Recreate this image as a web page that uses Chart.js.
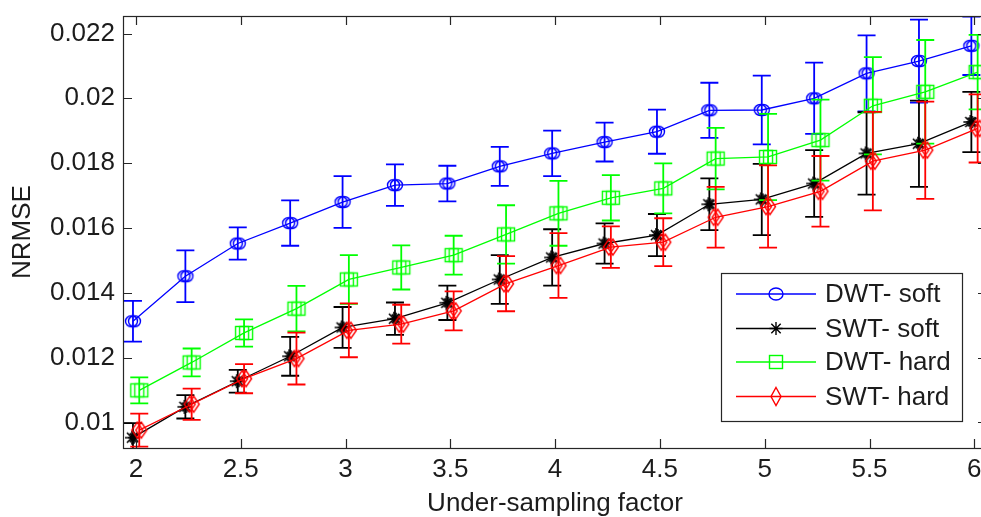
<!DOCTYPE html>
<html><head><meta charset="utf-8">
<script src="https://cdn.jsdelivr.net/npm/chart.js@4/dist/chart.umd.min.js"></script>
<style>
html,body{margin:0;padding:0;overflow:hidden;background:#fff;width:981px;height:517px}
#wrap{position:absolute;left:0;top:0;width:1000px;height:517px}
</style></head>
<body><div id="wrap"><canvas id="c" width="1000" height="517"></canvas></div>
<script>
// ---- data ----
const factors = [2,2.25,2.5,2.75,3,3.25,3.5,3.75,4,4.25,4.5,4.75,5,5.25,5.5,5.75,6];
const seriesNames = ['DWT- soft','SWT- soft','DWT- hard','SWT- hard'];
const dwtSoft    = [0.01312,0.01451,0.01552,0.01615,0.0168,0.01732,0.01737,0.0179,0.0183,0.01865,0.01897,0.01963,0.01964,0.02,0.02077,0.02115,0.02162];
const dwtSoftErr = [0.00063,0.0008,0.0005,0.0007,0.0008,0.00064,0.00055,0.0006,0.0007,0.0006,0.00068,0.00085,0.00106,0.0011,0.00117,0.00128,0.0009];
const swtSoft    = [0.00953,0.01048,0.01127,0.01204,0.01293,0.0132,0.01369,0.01441,0.01509,0.01552,0.01578,0.01673,0.01688,0.01737,0.0183,0.0186,0.01927];
const swtSoftErr = [0.00045,0.00036,0.00035,0.0006,0.00063,0.0005,0.00053,0.00075,0.00087,0.00062,0.00065,0.0008,0.0011,0.00103,0.00127,0.00133,0.00093];
const dwtHard    = [0.01099,0.01185,0.01276,0.01351,0.01441,0.01478,0.01516,0.0158,0.01645,0.01693,0.01722,0.01814,0.01819,0.01871,0.01977,0.0202,0.02081];
const dwtHardErr = [0.0004,0.00043,0.00042,0.0007,0.00075,0.00068,0.0006,0.0009,0.001,0.0007,0.00077,0.00095,0.00133,0.00125,0.0015,0.0016,0.00115];
const swtHard    = [0.00976,0.01056,0.01135,0.01197,0.01284,0.01303,0.01344,0.01428,0.01484,0.01541,0.01556,0.01633,0.01666,0.01713,0.01806,0.0184,0.01907];
const swtHardErr = [0.00051,0.00048,0.00045,0.0008,0.00083,0.0006,0.0006,0.00085,0.001,0.00064,0.00074,0.00094,0.00127,0.00109,0.00152,0.0015,0.00105];
const xTickValues = [2,2.5,3,3.5,4,4.5,5,5.5,6];
const xTickLabels = ['2','2.5','3','3.5','4','4.5','5','5.5','6'];
const yTickValues = [0.01,0.012,0.014,0.016,0.018,0.02,0.022];
const yTickLabels = ['0.01','0.012','0.014','0.016','0.018','0.02','0.022'];
const xTitle = 'Under-sampling factor';
const yTitle = 'NRMSE';

// ---- styles ----
const FONT = '"Liberation Sans", Arial, sans-serif';
const TXT = '#1c1c1c';
const softShift = -0.014, hardShift = 0.016;

function mk(w,h,fn){const c=document.createElement('canvas');c.width=w;c.height=h;const g=c.getContext('2d');fn(g,w,h);return c;}
function ellipse(g,cx,cy,rx,ry){g.beginPath();g.ellipse(cx,cy,rx,ry,0,0,Math.PI*2);g.stroke();}
function star(g,cx,cy,r){g.beginPath();g.moveTo(cx-r,cy);g.lineTo(cx+r,cy);g.moveTo(cx,cy-r);g.lineTo(cx,cy+r);
  const d=r*0.72;g.moveTo(cx-d,cy-d);g.lineTo(cx+d,cy+d);g.moveTo(cx-d,cy+d);g.lineTo(cx+d,cy-d);g.stroke();}
function diamond(g,cx,cy,rx,ry){g.beginPath();g.moveTo(cx,cy-ry);g.lineTo(cx+rx,cy);g.lineTo(cx,cy+ry);g.lineTo(cx-rx,cy);g.closePath();g.stroke();}

const mCircle = mk(22,18,(g)=>{g.strokeStyle='#0000ff';g.lineWidth=1.4;ellipse(g,9.5,9,6,5.5);ellipse(g,12.5,9,6,5.5);});
const mStar = mk(22,20,(g)=>{g.strokeStyle='#000';g.lineWidth=1.6;star(g,10,10,7);star(g,12,10,6);});
const mSquare = mk(22,18,(g)=>{g.strokeStyle='#00ff00';g.lineWidth=1.4;g.strokeRect(2.5,2.5,13,13);g.strokeRect(6.5,2.5,13,13);});
const mDiamond = mk(22,20,(g)=>{g.strokeStyle='#ff0000';g.lineWidth=1.4;diamond(g,9,10,5.5,8);diamond(g,13,10,5.5,8);});

const colors = ['#0000ff','#000000','#00ff00','#ff0000'];
const values = [dwtSoft, swtSoft, dwtHard, swtHard];
const errs = [dwtSoftErr, swtSoftErr, dwtHardErr, swtHardErr];
const shifts = [softShift, softShift, hardShift, hardShift];
const markers = [mCircle, mStar, mSquare, mDiamond];

const datasets = seriesNames.map((name,k)=>({
  label: name,
  data: factors.map((f,i)=>({x: f + shifts[k], y: values[k][i]})),
  errors: errs[k],
  borderColor: colors[k],
  backgroundColor: colors[k],
  borderWidth: 1.3,
  pointStyle: markers[k],
  pointRadius: 8,
  pointHoverRadius: 8,
  tension: 0,
  order: 4 - k
}));

const errPlugin = {
  id: 'errbars',
  beforeDatasetDraw(chart, args){
    const ds = chart.data.datasets[args.index];
    const xs = chart.scales.x, ys = chart.scales.y, a = chart.chartArea, ctx = chart.ctx;
    const cap = 9;
    ctx.save();
    ctx.beginPath(); ctx.rect(a.left, a.top, a.right - a.left, a.bottom - a.top); ctx.clip();
    ctx.strokeStyle = ds.borderColor; ctx.lineWidth = 1.8;
    ds.data.forEach((p,i)=>{
      const e = ds.errors[i];
      const x = xs.getPixelForValue(p.x);
      const y1 = ys.getPixelForValue(p.y + e), y2 = ys.getPixelForValue(p.y - e);
      ctx.beginPath();
      ctx.moveTo(x, y1); ctx.lineTo(x, y2);
      ctx.moveTo(x - cap, y1); ctx.lineTo(x + cap, y1);
      ctx.moveTo(x - cap, y2); ctx.lineTo(x + cap, y2);
      ctx.stroke();
    });
    ctx.restore();
  }
};

const framePlugin = {
  id: 'frame',
  afterDraw(chart){
    const ctx = chart.ctx, a = chart.chartArea, xs = chart.scales.x, ys = chart.scales.y;
    const tl = 9;
    ctx.save();
    ctx.strokeStyle = '#262626'; ctx.lineWidth = 1.2;
    ctx.strokeRect(Math.round(a.left)+0.5, Math.round(a.top)+0.5, Math.round(a.right - a.left), Math.round(a.bottom - a.top));
    ctx.beginPath();
    xTickValues.forEach(v=>{
      const x = Math.round(xs.getPixelForValue(v)) + 0.5;
      ctx.moveTo(x, a.bottom); ctx.lineTo(x, a.bottom - tl);
      ctx.moveTo(x, a.top); ctx.lineTo(x, a.top + tl);
    });
    yTickValues.forEach(v=>{
      const y = Math.round(ys.getPixelForValue(v)) + 0.5;
      ctx.moveTo(a.left, y); ctx.lineTo(a.left + tl, y);
      ctx.moveTo(a.right, y); ctx.lineTo(a.right - tl, y);
    });
    ctx.stroke();

    // legend
    const lx = 721, ly = 273, lw = 241, lh = 148;
    ctx.fillStyle = '#fff';
    ctx.fillRect(lx, ly, lw, lh);
    ctx.strokeStyle = '#262626'; ctx.lineWidth = 1.2;
    ctx.strokeRect(lx + 0.5, ly + 0.5, lw, lh);
    const rowY = [294, 328.5, 362, 396.5];
    ctx.font = '26px ' + FONT;
    ctx.textBaseline = 'middle';
    ctx.textAlign = 'left';
    seriesNames.forEach((name,k)=>{
      const y = rowY[k];
      ctx.strokeStyle = colors[k]; ctx.lineWidth = 1.4;
      ctx.beginPath(); ctx.moveTo(736, y); ctx.lineTo(816, y); ctx.stroke();
      const cx = 776;
      ctx.lineWidth = 1.4;
      if (k === 0) { ctx.beginPath(); ctx.ellipse(cx, y, 7, 6, 0, 0, Math.PI*2); ctx.stroke(); }
      if (k === 1) { star(ctx, cx, y, 6.5); }
      if (k === 2) { ctx.strokeRect(cx - 6.5, y - 6.5, 13, 13); }
      if (k === 3) { diamond(ctx, cx, y, 5, 9); }
      ctx.fillStyle = TXT;
      ctx.fillText(name, 825, y + 1);
    });
    ctx.restore();
  }
};

new Chart(document.getElementById('c'), {
  type: 'line',
  data: { datasets },
  options: {
    responsive: false,
    animation: false,
    devicePixelRatio: 1,
    layout: { padding: { left: 0, top: 16, right: 13, bottom: 0 } },
    plugins: { legend: { display: false }, tooltip: { enabled: false } },
    elements: { line: { fill: false } },
    scales: {
      x: {
        type: 'linear', min: 1.9384, max: 6.0606,
        grid: { display: false, drawTicks: false },
        border: { display: false },
        afterBuildTicks: (s)=>{ s.ticks = xTickValues.map(v=>({value: v})); },
        afterFit: (s)=>{ s.height = 69; s.paddingLeft = 0; s.paddingRight = 0; },
        ticks: {
          autoSkip: false, maxRotation: 0, padding: 6, color: TXT,
          font: { family: FONT, size: 26 },
          callback: (v)=>{ const i = xTickValues.indexOf(v); return i >= 0 ? xTickLabels[i] : ''; }
        },
        title: { display: true, text: xTitle, color: TXT, font: { family: FONT, size: 26, lineHeight: 1 }, padding: { top: 0, bottom: 0 } }
      },
      y: {
        type: 'linear', min: 0.00921, max: 0.02254,
        grid: { display: false, drawTicks: false },
        border: { display: false },
        afterBuildTicks: (s)=>{ s.ticks = yTickValues.map(v=>({value: v})); },
        afterFit: (s)=>{ s.width = 123; s.paddingTop = 0; s.paddingBottom = 0; },
        ticks: {
          autoSkip: false, padding: 8, color: TXT,
          font: { family: FONT, size: 26 },
          callback: (v)=>{ const i = yTickValues.findIndex(t=>Math.abs(t - v) < 1e-9); return i >= 0 ? yTickLabels[i] : ''; }
        },
        title: { display: true, text: yTitle, color: TXT, font: { family: FONT, size: 26, lineHeight: 1 }, padding: { top: 10, bottom: 0 } }
      }
    }
  },
  plugins: [errPlugin, framePlugin]
});
</script>
</body></html>
